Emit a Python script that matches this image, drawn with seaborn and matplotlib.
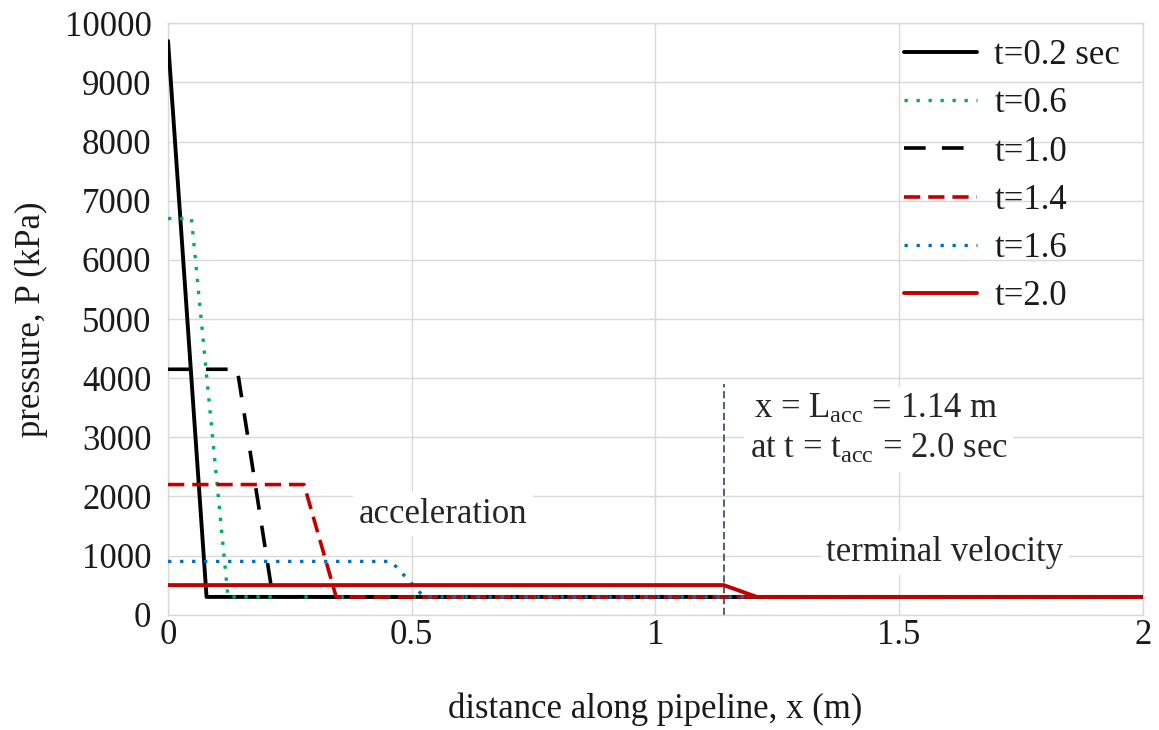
import numpy as np
import pandas as pd
import matplotlib
matplotlib.use("Agg")
import matplotlib.pyplot as plt
import seaborn as sns

# ---- data ----
x_t02 = [0.0, 0.079, 2.0]
p_t02 = [9700, 300, 300]
x_t06 = [0.0, 0.048, 0.123, 2.0]
p_t06 = [6700, 6700, 300, 300]
x_t10 = [0.0, 0.142, 0.215, 2.0]
p_t10 = [4150, 4150, 300, 300]
x_t14 = [0.0, 0.279, 0.345, 2.0]
p_t14 = [2200, 2200, 300, 300]
x_t16 = [0.0, 0.458, 0.525, 2.0]
p_t16 = [900, 900, 300, 300]
x_t20 = [0.0, 1.14, 1.208, 2.0]
p_t20 = [500, 500, 300, 300]
labels = ["t=0.2 sec", "t=0.6", "t=1.0", "t=1.4", "t=1.6", "t=2.0"]
L_acc = 1.14
L_acc_top = 3900
x_ticks = [0, 0.5, 1, 1.5, 2]
x_ticklabels = ["0", "0.5", "1", "1.5", "2"]
y_ticks = list(range(0, 10001, 1000))

series = [(x_t02, p_t02), (x_t06, p_t06), (x_t10, p_t10),
          (x_t14, p_t14), (x_t16, p_t16), (x_t20, p_t20)]
styles = [
    dict(color="black", lw=2.8, ls="-"),
    dict(color="#00B050", lw=2.4, ls=(0, (1, 2.6))),
    dict(color="black", lw=2.6, ls=(0, (6, 4.5))),
    dict(color="#C00000", lw=2.6, ls=(0, (4.5, 2.2))),
    dict(color="#0070C0", lw=2.4, ls=(0, (1, 2.6))),
    dict(color="#C00000", lw=2.8, ls="-"),
]

sns.set_theme(style="white")
plt.rcParams["font.family"] = ["Liberation Serif", "DejaVu Serif"]
plt.rcParams["mathtext.fontset"] = "custom"
plt.rcParams["mathtext.rm"] = "Liberation Serif"
plt.rcParams["mathtext.it"] = "Liberation Serif:italic"

FS = 25
fig = plt.figure(figsize=(11.59, 7.30), dpi=100)
ax = fig.add_axes([0.145, 0.158, 0.841, 0.810])

for (xs, ps), lab, st in zip(series, labels, styles):
    df = pd.DataFrame({"x": xs, "p": ps})
    sns.lineplot(data=df, x="x", y="p", ax=ax, estimator=None, sort=False,
                 color=st["color"], linewidth=st["lw"], linestyle=st["ls"],
                 label=lab, zorder=3)

ax.plot([L_acc, L_acc], [0, L_acc_top], color="#44546A", lw=1.3,
        ls=(0, (4, 2)), zorder=2)

ax.set_xlim(0, 2)
ax.set_ylim(0, 10000)
ax.set_xticks(x_ticks)
ax.set_xticklabels(x_ticklabels)
ax.set_yticks(y_ticks)
ax.grid(True, color="#D9D9D9", lw=1.0)
for s in ax.spines.values():
    s.set_color("#D9D9D9")
    s.set_linewidth(1.0)
ax.tick_params(axis="y", length=0, labelsize=FS, colors="#1a1a1a", pad=12)
ax.tick_params(axis="x", length=0, labelsize=FS, colors="#1a1a1a", pad=3)
ax.set_xlabel("distance along pipeline, x (m)", fontsize=FS, labelpad=29, color="#1a1a1a")
ax.set_ylabel("pressure, P (kPa)", fontsize=FS, labelpad=12, color="#1a1a1a")

box = dict(facecolor="white", edgecolor="none", pad=4)
ax.text(0.564, 1700, "acceleration", fontsize=FS, ha="center", va="center",
        bbox=box, zorder=4)
ax.text(1.594, 1050, "terminal velocity", fontsize=FS, ha="center", va="center",
        bbox=box, zorder=4)
ax.text(1.452, 3480, r"x = L$_{\mathrm{acc}}$ = 1.14 m", fontsize=FS, ha="center",
        va="center", bbox=box, zorder=4)
ax.text(1.458, 2790, r"at t = t$_{\mathrm{acc}}$ = 2.0 sec", fontsize=FS, ha="center",
        va="center", bbox=box, zorder=4)

leg = ax.legend(loc="upper right", bbox_to_anchor=(0.993, 1.0), frameon=False,
                fontsize=FS, handlelength=2.1, labelspacing=0.44,
                borderaxespad=0.2, borderpad=0.25, handletextpad=0.5)
for t in leg.get_texts():
    t.set_color("#1a1a1a")

fig.savefig("out.png", dpi=100)
